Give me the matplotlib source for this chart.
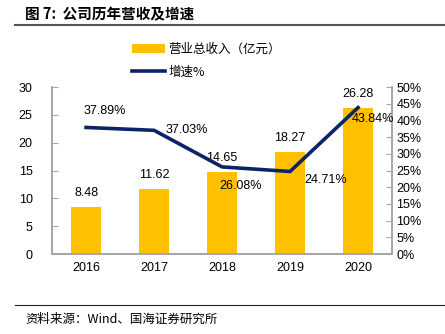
import matplotlib.pyplot as plt
from matplotlib.patches import Patch
from matplotlib.lines import Line2D

plt.rcParams['font.family'] = ['Liberation Sans', 'Noto Sans CJK SC', 'DejaVu Sans']

years = ['2016', '2017', '2018', '2019', '2020']
revenue = [8.48, 11.62, 14.65, 18.27, 26.28]      # 亿元
growth = [37.89, 37.03, 26.08, 24.71, 43.84]      # %

bar_color = '#FFC000'
line_color = '#0B2468'
grey = '#A6A6A6'

fig = plt.figure(figsize=(4.45, 3.34), dpi=100)
ax = fig.add_axes([0.117, 0.2395, 0.764, 0.5])
ax2 = ax.twinx()

x = range(len(years))
ax.bar(x, revenue, width=0.44, color=bar_color, zorder=2)
ax2.plot(x, growth, color=line_color, lw=2.6, zorder=3)

ax.set_xlim(-0.5, 4.5)
ax.set_ylim(0, 30)
ax.set_yticks(range(0, 31, 5))
ax2.set_ylim(0, 50)
ax2.set_yticks(range(0, 51, 5))
ax2.set_yticklabels([f'{v}%' for v in range(0, 51, 5)])
ax.set_xticks(list(x))
ax.set_xticklabels(years)

for a in (ax, ax2):
    for s in a.spines.values():
        s.set_color(grey)
        s.set_linewidth(1.2)
    a.spines['top'].set_visible(False)
ax.tick_params(axis='y', direction='in', length=4, color=grey, labelsize=9, pad=14)
ax2.tick_params(axis='y', direction='in', length=4, color=grey, labelsize=9, pad=3)
ax.tick_params(axis='x', length=0, labelsize=9, pad=6)

# bar value labels
for i, v in enumerate(revenue):
    ax.annotate(f'{v:.2f}', (i, v), xytext=(0, 8), textcoords='offset pixels',
                ha='center', va='bottom', fontsize=9, zorder=5)

# growth labels, placed around each point
offsets = [(19, 16, 'center', 'center'), (12, 0, 'left', 'center'),
           (-3, -19, 'left', 'center'), (14, -9, 'left', 'center'),
           (-6, -11, 'left', 'center')]
for i, (v, (dx, dy, ha, va)) in enumerate(zip(growth, offsets)):
    ax2.annotate(f'{v:.2f}%', (i, v), xytext=(dx, dy), textcoords='offset pixels',
                 ha=ha, va=va, fontsize=9, zorder=5)

handles = [Patch(facecolor=bar_color, edgecolor='none'),
           Line2D([], [], color=line_color, lw=2.6)]
fig.legend(handles, ['营业总收入（亿元）', '增速%'], loc='upper left',
           bbox_to_anchor=(0.272, 0.905), frameon=False, fontsize=9,
           handlelength=2.6, handleheight=0.7, handletextpad=0.3,
           labelspacing=0.75, prop={'family': ['Noto Sans CJK SC'], 'size': 9})

# header and footer
fig.text(0.056, 0.958, '图 7:  公司历年营收及增速', fontsize=10.5, fontweight='bold',
         family=['Noto Sans CJK SC'], va='center')
fig.add_artist(Line2D([0.034, 1.0], [0.925, 0.925], color='#555555', lw=1.5))
fig.add_artist(Line2D([0.034, 1.0], [0.087, 0.087], color='#222222', lw=0.8))
fig.text(0.056, 0.045, '资料来源：Wind、国海证券研究所', fontsize=9,
         family=['Noto Sans CJK SC', 'Liberation Sans'], va='center')

fig.savefig('out.png', dpi=100)
